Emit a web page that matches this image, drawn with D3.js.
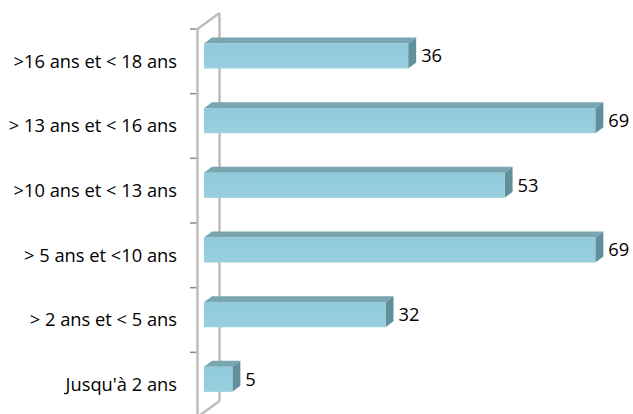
<!DOCTYPE html>
<html>
<head>
<meta charset="utf-8">
<script src="https://cdn.jsdelivr.net/npm/d3@7/dist/d3.min.js"></script>
<style>
  html, body { margin: 0; padding: 0; background: #fff; }
  svg { display: block; }
  text { font-family: "Open Sans", "Lato", sans-serif; fill: #000; }
</style>
</head>
<body>
<svg id="chart" width="633" height="414"></svg>
<script>
// Age groups, listed top to bottom
const categories = [
  ">16 ans et < 18 ans",
  "> 13 ans et < 16 ans",
  ">10 ans et < 13 ans",
  "> 5 ans et <10 ans",
  "> 2 ans et < 5 ans",
  "Jusqu'à 2 ans"
];
const values = [36, 69, 53, 69, 32, 5];

const svg = d3.select("#chart");

// Layout
const wallFrontX = 197.5, wallBackX = 219.5;
const depthX = 8, depthY = 6;       // bar extrusion
const wallDepthY = 16;              // wall/floor perspective offset
const fontSize = 18.3;

const x = d3.scaleLinear().domain([0, 70]).range([204, 601]);
const y = d3.scaleBand().domain(categories).range([29, 417]).paddingInner(0).paddingOuter(0);

const faceTop = 0.224, faceH = 0.387;

const gridColor = "#bdbdbd";

// Back wall edge and perspective connectors
svg.append("line")
  .attr("x1", wallBackX).attr("x2", wallBackX)
  .attr("y1", y.range()[0] - wallDepthY).attr("y2", y.range()[1] - wallDepthY)
  .attr("stroke", gridColor).attr("stroke-width", 2.5);
svg.append("line")
  .attr("x1", wallFrontX).attr("y1", y.range()[0])
  .attr("x2", wallBackX).attr("y2", y.range()[0] - wallDepthY)
  .attr("stroke", gridColor).attr("stroke-width", 2.5);
svg.append("line")
  .attr("x1", wallBackX).attr("y1", y.range()[1] - wallDepthY)
  .attr("x2", wallFrontX).attr("y2", y.range()[1])
  .attr("stroke", gridColor).attr("stroke-width", 2.5);

// Front axis line
svg.append("line")
  .attr("x1", wallFrontX).attr("x2", wallFrontX)
  .attr("y1", y.range()[0]).attr("y2", y.range()[1])
  .attr("stroke", gridColor).attr("stroke-width", 2.5);

// Tick marks at band boundaries
const tickYs = categories.map(c => y(c)).concat([y.range()[1]]);
svg.append("g").selectAll("line").data(tickYs).join("line")
  .attr("x1", 190).attr("x2", wallFrontX - 1)
  .attr("y1", d => d).attr("y2", d => d)
  .attr("stroke", "#8c8c8c").attr("stroke-width", 1.5);

// Front face gradient
const defs = svg.append("defs");
const grad = defs.append("linearGradient").attr("id", "front")
  .attr("x1", 0).attr("y1", 0).attr("x2", 0).attr("y2", 1);
grad.append("stop").attr("offset", "0%").attr("stop-color", "#8fcadb");
grad.append("stop").attr("offset", "100%").attr("stop-color", "#98d0de");

const bars = svg.append("g").selectAll("g").data(categories).join("g");

bars.each(function(c, i) {
  const g = d3.select(this);
  const x0 = x(0), x1 = x(values[i]);
  const top = y(c) + y.bandwidth() * faceTop;
  const h = y.bandwidth() * faceH;

  // top face
  g.append("polygon")
    .attr("points", [[x0, top], [x0 + depthX, top - depthY], [x1 + depthX, top - depthY], [x1, top]].join(" "))
    .attr("fill", "#79a5b0");
  // side face
  g.append("polygon")
    .attr("points", [[x1, top], [x1 + depthX, top - depthY], [x1 + depthX, top + h - depthY], [x1, top + h]].join(" "))
    .attr("fill", "#60909b");
  // front face
  g.append("rect")
    .attr("x", x0).attr("y", top)
    .attr("width", x1 - x0).attr("height", h)
    .attr("fill", "url(#front)");
  // value label
  g.append("text")
    .attr("x", x1 + depthX + 5)
    .attr("y", top + h / 2)
    .attr("dy", "0.35em")
    .attr("font-size", fontSize)
    .text(values[i]);
});

// Category labels
svg.append("g").selectAll("text").data(categories).join("text")
  .attr("x", 177)
  .attr("y", d => y(d) + y.bandwidth() / 2)
  .attr("dy", "0.35em")
  .attr("text-anchor", "end")
  .attr("font-size", fontSize)
  .text(d => d);
</script>
</body>
</html>
